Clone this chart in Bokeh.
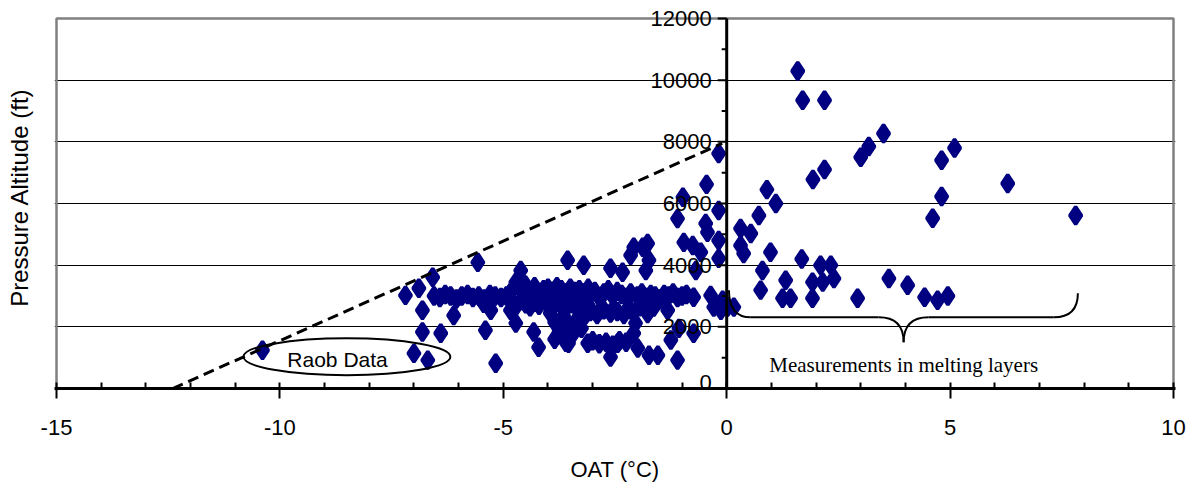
from bokeh.plotting import figure
from bokeh.models import Range1d, FixedTicker, ColumnDataSource, Label
from bokeh.core.properties import value
from bokeh.embed import file_html
from bokeh.resources import INLINE

# ---------------- data ----------------
x_ticks = [-15, -10, -5, 0, 5, 10]
x_tick_labels = ["-15", "-10", "-5", "0", "5", "10"]
x_minor = [-14, -13, -12, -11, -9, -8, -7, -6, -4, -3, -2, -1, 1, 2, 3, 4, 6, 7, 8, 9]
y_ticks = [0, 2000, 4000, 6000, 8000, 10000, 12000]
y_tick_labels = ["0", "2000", "4000", "6000", "8000", "10000", "12000"]
y_minor = [1000, 3000, 5000, 7000, 9000, 11000]
y_grid = [2000, 4000, 6000, 8000, 10000]

# measurements with OAT > 0 (melting layers)
warm_oat = [1.59, 1.70, 2.19, 3.51, 3.18, 3.00, 5.10, 4.81, 2.19, 1.93,
            6.29, 4.81, 0.90, 1.10, 7.81, 4.61, 0.72, 0.31, 0.54, 0.31,
            0.38, 0.98, 0.80, 1.32, 0.76, 1.25, 1.43, 1.68, 2.10, 2.33,
            1.92, 2.15, 2.40, 1.92, 2.93, 3.63, 4.05, 4.43, 4.72, 4.95,
            0.16, 0.02]
warm_alt = [10300, 9350, 9350, 8270, 7850, 7500, 7800, 7400, 7100, 6780,
            6650, 6230, 6450, 6000, 5610, 5520, 5610, 5190, 5030, 4640,
            4380, 4420, 3830, 3510, 3190, 2930, 2930, 4200, 4000, 4000,
            3450, 3450, 3570, 2930, 2930, 3570, 3350, 2960, 2860, 3000,
            2640, 2640]

# measurements just below freezing
near_oat = [-0.18, -0.45, -0.98, -0.18, -1.10, -0.47, -0.43, -0.18, -0.96, -0.76,
            -0.58, -0.18, -0.69, -0.36, -0.09, -0.74, -0.29, -0.13, -1.07, -0.74,
            -1.10, -1.25]
near_alt = [7620, 6620, 6200, 5770, 5510, 5350, 5070, 4800, 4740, 4640,
            4420, 4220, 3830, 3020, 2860, 2960, 2640, 2540, 1950, 1790,
            920, 1570]

# scattered cold measurements
cold_oat = [-10.39, -7.19, -6.89, -6.58, -6.81, -6.81, -6.40, -7.00, -6.69, -6.11,
            -5.57, -5.40, -5.17, -4.61, -4.72, -4.32, -4.21, -3.56, -3.20, -3.54,
            -3.11, -2.60, -2.44, -2.08, -1.99, -1.74, -1.54, -2.08, -1.88, -1.77,
            -2.15, -1.74, -2.60, -2.33, -1.81]
cold_alt = [1240, 3020, 3250, 3610, 2540, 1830, 1790, 1140, 920, 2370,
            4090, 1890, 820, 3830, 2120, 1830, 1340, 4160, 4000, 1470,
            1470, 1020, 1470, 1790, 1310, 1080, 1080, 4580, 4580, 4700,
            4320, 4160, 3900, 3770, 3830]

# dense band around 3000 ft
band_oat = [-6.55, -6.42, -6.30, -6.18, -6.05, -5.93, -5.80, -5.68, -5.55, -5.43,
            -5.30, -5.18, -5.05, -4.93, -5.44, -5.28, -4.84,
            -4.80, -4.70, -4.60, -4.50, -4.40, -4.30, -4.20, -4.10, -4.00,
            -3.90, -3.80, -3.70, -3.60, -3.50, -3.40, -3.30, -3.20, -3.10,
            -4.80, -4.70, -4.60, -4.50, -4.40, -4.30, -4.20, -4.10, -4.00,
            -3.90, -3.80, -3.70, -3.60, -3.50, -3.40, -3.30, -3.20, -3.10,
            -4.72, -4.50]
band_alt = [3000, 2950, 3050, 3000, 2900, 3000, 3050, 2950, 3000, 2900,
            3050, 3000, 2950, 3000, 2760, 2540, 2540,
            3200, 3350, 3500, 3250, 3150, 3300, 3100, 3200, 3250,
            3150, 3300, 3200, 3100, 3250, 3150, 3200, 3100, 3250,
            2800, 2700, 2850, 2750, 2650, 2800, 2700, 2850, 2750,
            2650, 2800, 2700, 2850, 2750, 2700, 2800, 2750, 2700,
            3450, 3350]

# lower cluster between -4 and -2 degC
low_oat = [-3.95, -3.85, -3.75, -3.65, -3.55, -3.45, -3.35, -3.25, -3.15, -3.85, -3.60,
           -3.05, -2.90, -2.75, -2.60, -2.45, -2.30, -2.15,
           -3.00, -2.85, -2.70, -2.55, -2.40, -2.25]
low_alt = [2450, 2150, 1850, 2350, 2050, 1750, 2250, 1950, 2400, 1600, 1500,
           2500, 2400, 2550, 2450, 2500, 2400, 2550,
           1550, 1450, 1500, 1400, 1550, 1500]

# band between -3 and -1 degC
mid_oat = [-3.05, -2.95, -2.85, -2.75, -2.65, -2.55, -2.45, -2.35, -2.25, -2.15,
           -2.00, -1.90, -1.80, -1.70, -1.60, -1.50, -1.40, -1.30, -1.20, -1.10,
           -1.00, -0.90, -1.95, -1.77, -1.63, -1.32, -2.04]
mid_alt = [3050, 3150, 2950, 3100, 3200, 3000, 3150, 3050, 2950, 3100,
           3000, 3100, 2950, 3050, 3000, 2900, 3050, 3000, 3100, 2950,
           3000, 3050, 2650, 2430, 2640, 2540, 2120]

# Raob envelope (dashed line)
raob_oat = [-12.4, -0.1]
raob_alt = [0, 7950]

# ---------------- figure ----------------
NAVY = "#000080"
FONT = "Liberation Sans"

# plot area: -15..10 degC over 1117 px, 0..12000 ft over 370 px; the frame is a
# little larger at the top so that the "12000" label is not clipped
px_x = 1117 / (x_ticks[-1] - x_ticks[0])
pad_x = 2 / px_x
y_top = y_ticks[-1] * 382 / 370

p = figure(width=1196, height=486,
           x_range=Range1d(x_ticks[0] - pad_x, x_ticks[-1] + pad_x),
           y_range=Range1d(0, y_top),
           output_backend="svg", toolbar_location=None,
           min_border_left=54, min_border_right=21, min_border_top=6, min_border_bottom=98)
p.background_fill_color = "white"
p.border_fill_color = "white"
p.outline_line_color = None

# grid
p.xgrid.visible = False
p.ygrid.ticker = FixedTicker(ticks=y_grid)
p.ygrid.grid_line_color = "black"
p.ygrid.grid_line_width = 1

# plot-area border (left, top, right)
p.line([x_ticks[0], x_ticks[0], x_ticks[-1], x_ticks[-1]],
       [y_ticks[0], y_ticks[-1], y_ticks[-1], y_ticks[0]],
       line_color="#808080", line_width=2.5)

# x axis (bottom)
xa = p.xaxis[0]
xa.ticker = FixedTicker(ticks=x_ticks, minor_ticks=x_minor)
xa.major_label_overrides = {t: l for t, l in zip(x_ticks, x_tick_labels)}
xa.axis_line_width = 3
xa.major_tick_line_width = 2
xa.minor_tick_line_width = 2
xa.major_tick_in = 6
xa.major_tick_out = 10
xa.minor_tick_in = 6
xa.minor_tick_out = 0
xa.major_label_text_font = FONT
xa.major_label_text_font_size = "22px"
xa.major_label_text_color = "black"
xa.major_label_standoff = 21
xa.axis_label = "OAT (°C)"
xa.axis_label_text_font = FONT
xa.axis_label_text_font_style = "normal"
xa.axis_label_text_font_size = "22px"
xa.axis_label_text_color = "black"
xa.axis_label_standoff = 19

# y axis (left): title only
ya = p.yaxis[0]
ya.ticker = FixedTicker(ticks=[])
ya.axis_line_color = None
ya.major_tick_line_color = None
ya.minor_tick_line_color = None
ya.major_tick_out = 0
ya.major_tick_in = 0
ya.major_label_standoff = 0
ya.axis_label = "Pressure Altitude (ft)"
ya.axis_label_text_font = FONT
ya.axis_label_text_font_style = "normal"
ya.axis_label_text_font_size = "24px"
ya.axis_label_text_color = "black"
ya.axis_label_standoff = 22

# data points
all_oat = warm_oat + near_oat + cold_oat + band_oat + low_oat + mid_oat
all_alt = warm_alt + near_alt + cold_alt + band_alt + low_alt + mid_alt
src = ColumnDataSource(data=dict(oat=all_oat, alt=all_alt))
p.scatter("oat", "alt", source=src, marker="diamond", size=17.5,
          fill_color=NAVY, line_color=NAVY, line_width=3.5, line_join="bevel")

# Raob envelope
p.line(raob_oat, raob_alt, line_color="black", line_width=3, line_dash="11 6")

# "Raob Data" ellipse + label
p.ellipse(x=[-8.50], y=[1030], width=4.63, height=1200,
          fill_color=None, line_color="black", line_width=2)
p.text(x=[-8.71], y=[950], text=["Raob Data"], text_font=value(FONT),
       text_font_size="21px", text_align="center", text_baseline="alphabetic",
       text_color="black")

# curly brace for melting layers
p.quadratic(x0=[0.05, 3.40, 3.96, 7.32], y0=[3190, 2310, 1500, 2310],
            x1=[0.54, 3.96, 4.52, 7.86], y1=[2310, 1500, 2310, 3090],
            cx=[0.05, 3.96, 3.96, 7.86], cy=[2310, 2310, 2310, 2310],
            line_color="black", line_width=2)
p.segment(x0=[0.54, 4.52], y0=[2310, 2310], x1=[3.40, 7.32], y1=[2310, 2310],
          line_color="black", line_width=2)
p.text(x=[3.96], y=[760], text=["Measurements in melting layers"],
       text_font=value("Liberation Serif"), text_font_size="21px",
       text_align="center", text_baseline="alphabetic", text_color="black")

# y axis drawn at OAT = 0
maj = 9 / px_x
mnr = 5 / px_x
p.segment(x0=[0], y0=[y_ticks[0]], x1=[0], y1=[y_ticks[-1]], line_color="black", line_width=3)
p.segment(x0=[0] * len(y_ticks), y0=y_ticks, x1=[-maj] * len(y_ticks), y1=y_ticks,
          line_color="black", line_width=2)
p.segment(x0=[0] * len(y_minor), y0=y_minor, x1=[-mnr] * len(y_minor), y1=y_minor,
          line_color="black", line_width=2)
for t, l in zip(y_ticks, y_tick_labels):
    lift = 6 if t == y_ticks[0] else 0
    p.add_layout(Label(x=0, y=t, text=l, x_offset=-15, y_offset=lift,
                       text_font=FONT, text_font_size="22px",
                       text_align="right", text_baseline="middle", text_color="black"))

open("out.html", "w").write(file_html(p, INLINE))
